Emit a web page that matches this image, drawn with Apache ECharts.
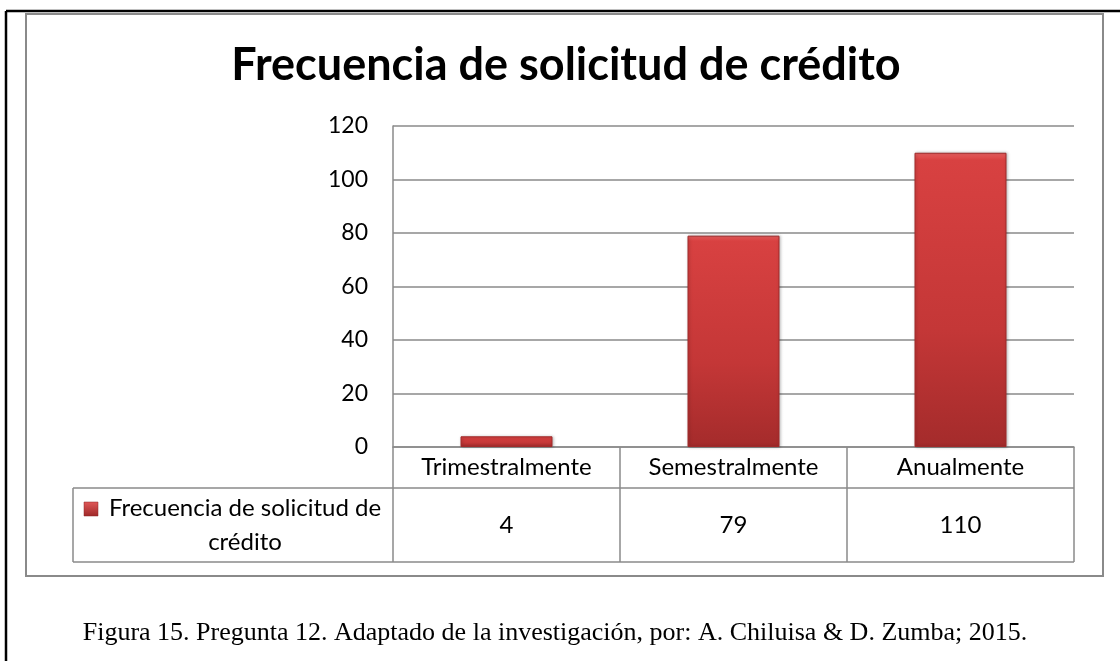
<!DOCTYPE html>
<html>
<head>
<meta charset="utf-8">
<script src="https://cdn.jsdelivr.net/npm/echarts@6/dist/echarts.min.js"></script>
<style>
  html, body { margin: 0; padding: 0; background: #fff; }
  #chart { width: 1120px; height: 661px; }
</style>
</head>
<body>
<div id="chart"></div>
<script>
const titulo = 'Frecuencia de solicitud de crédito'
const serieNombre = 'Frecuencia de solicitud de crédito'
const categorias = ['Trimestralmente', 'Semestralmente', 'Anualmente']
const valores = [4, 79, 110]
const ticksY = [0, 20, 40, 60, 80, 100, 120]
const leyenda = ['Frecuencia de solicitud de', 'crédito']
const pie = 'Figura 15. Pregunta 12. Adaptado de la investigación, por: A. Chiluisa & D. Zumba; 2015.'

const chart = echarts.init(document.getElementById('chart'))
const gris = '#8a8a8a'
const fuente = 'Lato'

// tabla de datos bajo el gráfico (bordes y celda de leyenda)
const tabla = [
  { type: 'line', shape: { x1: 73, y1: 488, x2: 1074, y2: 488 } },
  { type: 'line', shape: { x1: 73, y1: 562, x2: 1074, y2: 562 } },
  { type: 'line', shape: { x1: 73, y1: 488, x2: 73, y2: 562 } }
].map(l => Object.assign(l, { style: { stroke: gris, lineWidth: 1.5 }, z: 5 }))

const option = {
  backgroundColor: '#fff',
  animation: false,
  grid: { left: 393, right: 46, top: 126, bottom: 214 },
  xAxis: {
    type: 'category',
    data: categorias,
    axisLine: { lineStyle: { color: gris, width: 1.5 } },
    axisTick: { show: true, alignWithLabel: false, length: 115, lineStyle: { color: gris, width: 1.5 } },
    axisLabel: {
      margin: 0,
      interval: 0,
      formatter: (v, i) => '{c|' + v + '}\n{v|' + valores[i] + '}',
      rich: {
        c: { fontFamily: fuente, fontSize: 24, color: '#000', lineHeight: 41 },
        v: { fontFamily: fuente, fontSize: 24, color: '#000', lineHeight: 74 }
      }
    }
  },
  yAxis: {
    type: 'value',
    min: ticksY[0],
    max: ticksY[ticksY.length - 1],
    interval: 20,
    axisLine: { show: true, lineStyle: { color: gris, width: 1.5 } },
    axisTick: { show: false },
    splitLine: { lineStyle: { color: gris, width: 1.5 } },
    axisLabel: { margin: 25, fontFamily: fuente, fontSize: 23, color: '#000' }
  },
  series: [
    {
      name: serieNombre,
      type: 'bar',
      data: valores,
      barWidth: 92,
      itemStyle: {
        color: new echarts.graphic.LinearGradient(0, 0, 0, 1, [
          { offset: 0, color: '#e86060' },
          { offset: 0.025, color: '#d84141' },
          { offset: 0.6, color: '#c43737' },
          { offset: 1, color: '#a42b2b' }
        ]),
        borderColor: '#a02a2a',
        borderWidth: 1,
        shadowColor: 'rgba(0,0,0,0.25)',
        shadowBlur: 3,
        shadowOffsetX: 1
      }
    }
  ],
  graphic: [
    // marco exterior
    { type: 'line', shape: { x1: 6, y1: 11, x2: 1120, y2: 11 }, style: { stroke: '#000', lineWidth: 2.5 } },
    { type: 'line', shape: { x1: 6, y1: 11, x2: 6, y2: 661 }, style: { stroke: '#000', lineWidth: 2.5 } },
    { type: 'rect', shape: { x: 26, y: 14, width: 1077, height: 562 }, style: { fill: 'none', stroke: gris, lineWidth: 2 } },
    {
      type: 'text', x: 566, y: 65,
      style: { text: titulo, fontFamily: fuente, fontWeight: 'bold', fontSize: 45, fill: '#000', align: 'center', verticalAlign: 'middle' }
    },
    ...tabla,
    {
      type: 'rect', shape: { x: 84, y: 502, width: 14, height: 14 },
      style: {
        fill: new echarts.graphic.LinearGradient(0, 0, 0, 1, [
          { offset: 0, color: '#e05858' },
          { offset: 1, color: '#9e2828' }
        ]),
        stroke: '#8e2424', lineWidth: 0.5
      }
    },
    {
      type: 'text', x: 245, y: 508,
      style: { text: leyenda[0], fontFamily: fuente, fontSize: 24, fill: '#000', align: 'center', verticalAlign: 'middle' }
    },
    {
      type: 'text', x: 245, y: 542,
      style: { text: leyenda[1], fontFamily: fuente, fontSize: 24, fill: '#000', align: 'center', verticalAlign: 'middle' }
    },
    {
      type: 'text', x: 555, y: 633,
      style: { text: pie, fontFamily: 'Liberation Serif', fontSize: 26, fill: '#000', align: 'center', verticalAlign: 'middle' }
    }
  ]
}

chart.setOption(option)
</script>
</body>
</html>
